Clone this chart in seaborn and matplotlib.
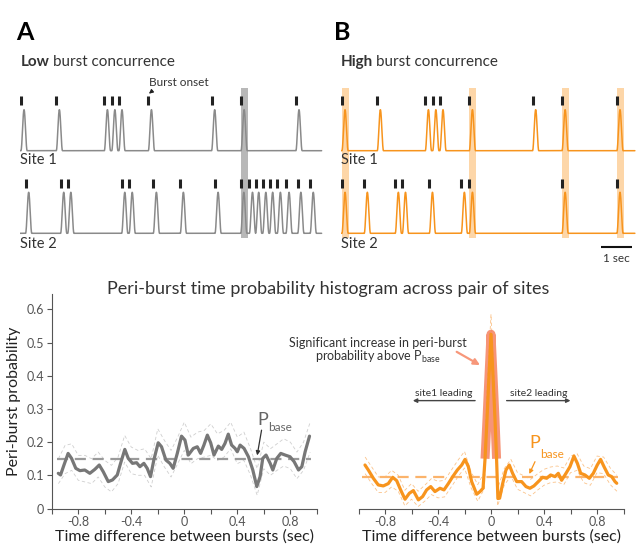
import numpy as np
import matplotlib
matplotlib.use("Agg")
import matplotlib.pyplot as plt
from matplotlib.patches import Rectangle
import seaborn as sns

# ---- data ----

# burst onset times (sec) in the two rasters
low_site1 = [0.03, 1.17, 2.72, 2.96, 3.19, 4.14, 6.18, 7.13, 8.90]
low_site2 = [0.18, 1.31, 1.54, 3.28, 3.52, 4.30, 5.17, 6.29, 7.12, 7.40,
             7.60, 7.83, 8.05, 8.30, 8.58, 8.96, 9.36]
high_site1 = [0.03, 1.17, 2.72, 2.96, 3.19, 4.14, 6.18, 7.13, 8.90]
high_site2 = [0.03, 0.75, 1.75, 1.98, 2.85, 3.88, 4.14, 7.13, 8.90]
low_shared = [7.13]
high_shared = [0.03, 4.14, 7.13, 8.90]

# peri-burst probability, low concurrence (A)
a_x = [-0.951, -0.934, -0.909, -0.877, -0.851, -0.819, -0.788, -0.751, -0.713, -0.675,
       -0.642, -0.612, -0.574, -0.542, -0.506, -0.481, -0.449, -0.423, -0.391, -0.360,
       -0.335, -0.305, -0.280, -0.255, -0.230, -0.197, -0.172, -0.139, -0.109, -0.084,
       -0.053, -0.021, 0.005, 0.030, 0.068, 0.098, 0.123, 0.148, 0.174, 0.199,
       0.224, 0.257, 0.282, 0.307, 0.332, 0.357, 0.383, 0.400, 0.421, 0.451,
       0.484, 0.517, 0.547, 0.572, 0.592, 0.617, 0.648, 0.668, 0.698, 0.728,
       0.761, 0.798, 0.829, 0.862, 0.887, 0.912, 0.945]
a_y = [0.106, 0.101, 0.130, 0.166, 0.151, 0.121, 0.114, 0.116, 0.106, 0.118,
       0.131, 0.111, 0.081, 0.086, 0.101, 0.136, 0.178, 0.151, 0.136, 0.138,
       0.126, 0.136, 0.121, 0.096, 0.146, 0.198, 0.186, 0.146, 0.136, 0.121,
       0.166, 0.218, 0.206, 0.161, 0.181, 0.186, 0.166, 0.191, 0.221, 0.198,
       0.161, 0.188, 0.178, 0.196, 0.224, 0.191, 0.181, 0.171, 0.191, 0.181,
       0.156, 0.116, 0.066, 0.096, 0.151, 0.161, 0.136, 0.116, 0.151, 0.166,
       0.161, 0.156, 0.141, 0.116, 0.126, 0.171, 0.218]
a_base = 0.148

band_x = [-0.95, -0.90, -0.85, -0.80, -0.75, -0.70, -0.65, -0.60, -0.55, -0.50,
          -0.45, -0.40, -0.35, -0.30, -0.25, -0.20, -0.15, -0.10, -0.05, 0.00,
          0.05, 0.10, 0.15, 0.20, 0.25, 0.30, 0.35, 0.40, 0.45, 0.50,
          0.55, 0.60, 0.65, 0.70, 0.75, 0.80, 0.85, 0.90, 0.95]
a_hi = [0.15, 0.19, 0.195, 0.16, 0.16, 0.15, 0.17, 0.145, 0.13, 0.155,
        0.22, 0.185, 0.175, 0.18, 0.15, 0.24, 0.205, 0.175, 0.215, 0.26,
        0.215, 0.23, 0.235, 0.255, 0.225, 0.235, 0.26, 0.215, 0.23, 0.18,
        0.12, 0.2, 0.18, 0.195, 0.21, 0.2, 0.17, 0.2, 0.26]
a_lo = [0.075, 0.105, 0.115, 0.085, 0.08, 0.075, 0.095, 0.065, 0.05, 0.075,
        0.14, 0.105, 0.1, 0.1, 0.065, 0.16, 0.125, 0.095, 0.135, 0.175,
        0.135, 0.15, 0.155, 0.16, 0.145, 0.155, 0.18, 0.135, 0.145, 0.1,
        0.04, 0.12, 0.1, 0.115, 0.128, 0.12, 0.09, 0.115, 0.17]

# peri-burst probability, high concurrence (B)
b_x = [-0.951, -0.926, -0.888, -0.851, -0.813, -0.775, -0.742, -0.712, -0.682, -0.649,
       -0.616, -0.586, -0.548, -0.516, -0.486, -0.455, -0.423, -0.385, -0.355, -0.322,
       -0.289, -0.254, -0.221, -0.196, -0.171, -0.146, -0.108, -0.083, -0.060, -0.045,
       -0.030, -0.015, 0.000, 0.015, 0.030, 0.042, 0.052, 0.065, 0.088, 0.113,
       0.138, 0.163, 0.194, 0.231, 0.264, 0.294, 0.324, 0.357, 0.389, 0.420,
       0.450, 0.483, 0.508, 0.533, 0.566, 0.596, 0.626, 0.652, 0.677, 0.709,
       0.742, 0.772, 0.802, 0.827, 0.853, 0.885, 0.911, 0.936, 0.949]
b_y = [0.131, 0.116, 0.091, 0.071, 0.068, 0.075, 0.094, 0.084, 0.056, 0.028,
       0.046, 0.054, 0.026, 0.036, 0.056, 0.066, 0.051, 0.061, 0.056, 0.075,
       0.096, 0.116, 0.131, 0.148, 0.126, 0.081, 0.043, 0.051, 0.061, 0.150,
       0.270, 0.400, 0.525, 0.400, 0.270, 0.150, 0.030, 0.031, 0.075, 0.116,
       0.131, 0.106, 0.081, 0.081, 0.066, 0.061, 0.068, 0.081, 0.094, 0.091,
       0.101, 0.096, 0.106, 0.085, 0.106, 0.126, 0.158, 0.136, 0.106, 0.101,
       0.091, 0.106, 0.131, 0.148, 0.126, 0.101, 0.096, 0.081, 0.076]
b_base = 0.094

b_band_x = [-0.95, -0.90, -0.85, -0.80, -0.75, -0.70, -0.65, -0.60, -0.55, -0.50,
            -0.45, -0.40, -0.35, -0.30, -0.25, -0.20, -0.15, -0.10, -0.05,
            -0.03, 0.00, 0.03,
            0.05, 0.10, 0.15, 0.20, 0.25, 0.30, 0.35, 0.40, 0.45, 0.50,
            0.55, 0.60, 0.65, 0.70, 0.75, 0.80, 0.85, 0.90, 0.95]
b_hi = [0.155, 0.125, 0.095, 0.095, 0.115, 0.10, 0.055, 0.075, 0.052, 0.07,
        0.09, 0.082, 0.085, 0.115, 0.145, 0.172, 0.11, 0.072, 0.11,
        0.36, 0.585, 0.33,
        0.06, 0.12, 0.148, 0.108, 0.098, 0.088, 0.104, 0.118, 0.125, 0.128,
        0.122, 0.158, 0.165, 0.128, 0.12, 0.158, 0.155, 0.122, 0.10]
b_lo = [0.105, 0.075, 0.048, 0.048, 0.065, 0.052, 0.008, 0.028, 0.006, 0.022,
        0.042, 0.032, 0.035, 0.065, 0.095, 0.122, 0.062, 0.022, 0.06,
        0.30, 0.47, 0.27,
        0.008, 0.07, 0.098, 0.058, 0.048, 0.038, 0.055, 0.07, 0.078, 0.08,
        0.072, 0.108, 0.115, 0.078, 0.07, 0.108, 0.105, 0.072, 0.052]

x_ticks = [-1.0, -0.8, -0.6, -0.4, -0.2, 0.0, 0.2, 0.4, 0.6, 0.8, 1.0]
x_ticklabels = ['', '-0.8', '', '-0.4', '', '0', '', '0.4', '', '0.8', '']
y_ticks = [0, 0.1, 0.2, 0.3, 0.4, 0.5, 0.6]
y_ticklabels = ['0', '0.1', '0.2', '0.3', '0.4', '0.5', '0.6']

# ---- style ----
GRAY = '#8a8a8a'
GRAY_DARK = '#777777'
ORANGE = '#f7941d'
ORANGE_LIGHT = '#fbc38a'
SALMON = '#f47a56'
TXT = '#333333'

sns.set_theme(style='white')
plt.rcParams['font.family'] = ['Lato', 'DejaVu Sans']
plt.rcParams['axes.unicode_minus'] = False

W, H = 641, 548
fig = plt.figure(figsize=(W / 100, H / 100), dpi=100)
renderer = fig.canvas.get_renderer()


def box(x0, y0, x1, y1):
    return [x0 / W, 1 - y1 / H, (x1 - x0) / W, (y1 - y0) / H]


def fx(x):
    return x / W


def fy(y):
    return 1 - y / H


def two_part(x, y, bold, rest, size, color=TXT):
    t1 = fig.text(fx(x), fy(y), bold, weight='bold', fontsize=size, color=color, va='center')
    bb = t1.get_window_extent(renderer=renderer)
    fig.text(bb.x1 / W + 3 / W, fy(y), rest, fontsize=size, color=color, va='center')


# ---- raster panels ----
BURST_W = 0.2
PEAK = 41
BASE2 = -82.6


def burst_trace(t, onsets):
    y = np.zeros_like(t)
    for t0 in onsets:
        m = (t >= t0) & (t <= t0 + BURST_W)
        y[m] += PEAK * np.sin(np.pi * (t[m] - t0) / BURST_W) ** 2
    return y


def raster(ax, s1, s2, shared, t_end, color, shade):
    t = np.linspace(0, t_end, 4000)
    for t0 in shared:
        ax.add_patch(Rectangle((t0, -87.3), 0.215, 150, color=shade, lw=0, zorder=0))
    sns.lineplot(x=t, y=burst_trace(t, s1), ax=ax, color=color, lw=1.1, sort=False)
    sns.lineplot(x=t, y=burst_trace(t, s2) + BASE2, ax=ax, color=color, lw=1.1, sort=False)
    ax.vlines(s1, 46, 55, color='#222222', lw=2.2)
    ax.vlines(s2, BASE2 + 45, BASE2 + 54, color='#222222', lw=2.2)
    ax.text(0.0, -9.5, 'Site 1', fontsize=10.5, color=TXT, va='center')
    ax.text(0.0, BASE2 - 10.5, 'Site 2', fontsize=10.5, color=TXT, va='center')
    ax.set_xlim(0, 304 / 31)
    ax.set_ylim(150.7 - 262, 150.7 - 85)
    ax.axis('off')


ax_ta = fig.add_axes(box(20, 85, 324, 262))
raster(ax_ta, low_site1, low_site2, low_shared, 9.73, GRAY, '#b8b8b8')
ax_ta.annotate('Burst onset', xy=(4.16, 57), xytext=(4.16, 68.5), fontsize=8.5, color=TXT,
               va='center', ha='left',
               arrowprops=dict(arrowstyle='-|>', color='#222222', lw=0.8,
                               mutation_scale=6, shrinkA=0, shrinkB=0,
                               relpos=(0.12, 0.0)))

ax_tb = fig.add_axes(box(341, 85, 645, 262))
raster(ax_tb, high_site1, high_site2, high_shared, 9.48, ORANGE, '#fdd6a8')
ax_tb.plot([8.39, 9.39], [-96, -96], color='#111111', lw=1.5, solid_capstyle='butt')
ax_tb.text(8.89, -107.5, '1 sec', fontsize=8.5, color=TXT, ha='center', va='center')

fig.text(fx(16), fy(32), 'A', fontsize=18, weight='bold', color='black', va='center')
fig.text(fx(334), fy(32), 'B', fontsize=18, weight='bold', color='black', va='center')
two_part(21, 62, 'Low', 'burst concurrence', 11)
two_part(341, 62, 'High', 'burst concurrence', 11)

fig.text(fx(328), fy(289), 'Peri-burst time probability histogram across pair of sites',
         fontsize=13, color=TXT, ha='center', va='center')


# ---- histogram panels ----
def style_axis(ax, show_y):
    ax.set_xlim(-1, 1)
    ax.set_ylim(0, 0.645)
    ax.set_xticks(x_ticks)
    ax.set_xticklabels(x_ticklabels)
    ax.tick_params(axis='x', direction='out', length=3.5, width=0.8, color='#555555',
                   labelsize=9, labelcolor='#555555', pad=2, bottom=True)
    sns.despine(ax=ax, left=not show_y)
    for s in ['bottom', 'left']:
        ax.spines[s].set_color('#555555')
        ax.spines[s].set_linewidth(0.8)
    if show_y:
        ax.set_yticks(y_ticks)
        ax.set_yticklabels(y_ticklabels)
        ax.tick_params(axis='y', direction='out', length=3.5, width=0.8, color='#555555',
                       labelsize=9, labelcolor='#555555', pad=2, left=True)
        ax.set_ylabel('Peri-burst probability', fontsize=11.5, color='#222222', labelpad=4)
    else:
        ax.set_yticks([])
        ax.set_ylabel('')
    ax.set_xlabel('Time difference between bursts (sec)', fontsize=11.5, color='#222222',
                  labelpad=1)


ax_a = fig.add_axes(box(51.8, 294.4, 316.8, 508.5))
ax_a.plot(band_x, a_hi, color='#cfcfcf', lw=0.6, linestyle=(0, (4, 3)))
ax_a.plot(band_x, a_lo, color='#cfcfcf', lw=0.6, linestyle=(0, (4, 3)))
ax_a.plot([-0.96, 0.96], [a_base, a_base], color='#9a9a9a', lw=1.6, linestyle=(0, (5, 3)))
sns.lineplot(x=a_x, y=a_y, ax=ax_a, color=GRAY_DARK, lw=2.3, sort=False)
ax_a.text(0.555, 0.268, 'P', fontsize=13, color='#666666', ha='left', va='center')
ax_a.text(0.632, 0.243, 'base', fontsize=8.5, color='#666666', ha='left', va='center')
ax_a.annotate('', xy=(0.55, 0.16), xytext=(0.583, 0.236),
              arrowprops=dict(arrowstyle='-|>', color='#333333', lw=0.9,
                              mutation_scale=6, shrinkA=0, shrinkB=0))
style_axis(ax_a, True)

ax_b = fig.add_axes(box(358.5, 294.4, 623.5, 508.5))
ax_b.plot(b_band_x, b_hi, color=ORANGE_LIGHT, lw=0.6, linestyle=(0, (4, 3)))
ax_b.plot(b_band_x, b_lo, color=ORANGE_LIGHT, lw=0.6, linestyle=(0, (4, 3)))
ax_b.plot([-0.97, 0.96], [b_base, b_base], color='#fbb36b', lw=1.6, linestyle=(0, (5, 3)))
bx = np.array(b_x)
by = np.array(b_y)
peak = (bx >= -0.046) & (bx <= 0.043)
ax_b.plot(bx[peak], by[peak], color=SALMON, lw=6.5, alpha=0.8, solid_capstyle='butt',
          solid_joinstyle='round')
sns.lineplot(x=b_x, y=b_y, ax=ax_b, color=ORANGE, lw=2.3, sort=False)

ax_b.text(-0.853, 0.50, 'Significant increase in peri-burst', fontsize=9, color=TXT,
          ha='center', va='center')
ax_b.text(-0.853, 0.456, r'probability above P$_{\mathregular{base}}$', fontsize=9,
          color=TXT, ha='center', va='center')
ax_b.annotate('', xy=(-0.083, 0.432), xytext=(-0.259, 0.472),
              arrowprops=dict(arrowstyle='-|>', color='#f7977a', lw=1.6,
                              mutation_scale=9, shrinkA=0, shrinkB=0))

ax_b.annotate('', xy=(-0.59, 0.325), xytext=(-0.12, 0.325),
              arrowprops=dict(arrowstyle='-|>', color='#444444', lw=1.0,
                              mutation_scale=6, shrinkA=0, shrinkB=0))
ax_b.annotate('', xy=(0.60, 0.325), xytext=(0.118, 0.325),
              arrowprops=dict(arrowstyle='-|>', color='#444444', lw=1.0,
                              mutation_scale=6, shrinkA=0, shrinkB=0))
ax_b.text(-0.36, 0.347, 'site1 leading', fontsize=7.5, color=TXT, ha='center', va='center')
ax_b.text(0.36, 0.347, 'site2 leading', fontsize=7.5, color=TXT, ha='center', va='center')

ax_b.text(0.29, 0.196, 'P', fontsize=13, color=ORANGE, ha='left', va='center')
ax_b.text(0.37, 0.164, 'base', fontsize=8.5, color=ORANGE, ha='left', va='center')
ax_b.annotate('', xy=(0.289, 0.104), xytext=(0.332, 0.141),
              arrowprops=dict(arrowstyle='-|>', color=ORANGE, lw=0.9,
                              mutation_scale=6, shrinkA=0, shrinkB=0))
style_axis(ax_b, False)

fig.savefig('out.png', dpi=100)
